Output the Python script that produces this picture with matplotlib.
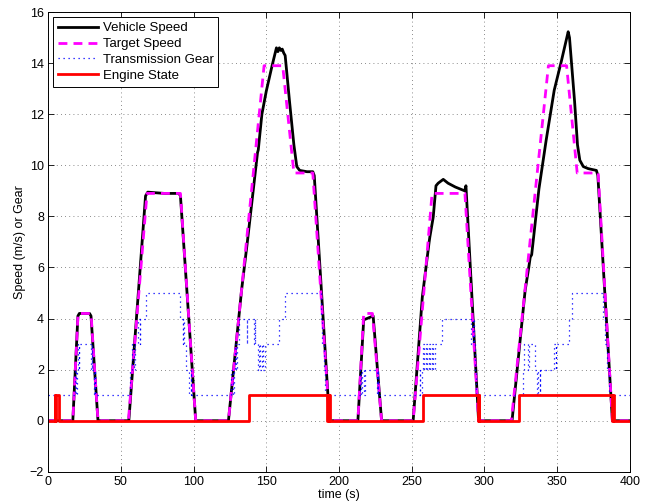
import numpy as np
import matplotlib
matplotlib.use('Agg')
import matplotlib.pyplot as plt

plt.rcParams['font.family'] = ['Liberation Sans', 'DejaVu Sans']
plt.rcParams['font.size'] = 9

# vehicle speed trace (s, m/s)
vehicle_t = [0, 17, 20.5, 21.5, 28.5, 29.5, 34.3,
             55.5, 67, 68.5, 80, 90, 91, 101.5,
             124, 133, 137, 141, 144, 144.5, 147, 150, 154, 157, 158, 159, 160, 161, 162, 163,
             166, 169, 171, 173, 178, 182, 183, 193.5,
             213, 217, 223.5, 229.3,
             251, 257.3, 262, 262.5, 264.8, 266.7, 268.2, 271.7, 275, 280, 286.5, 287.3, 296,
             319, 328, 330.5, 331.5, 332.5, 337.5, 342.5, 348, 353, 357.6, 358.5, 362, 364, 365.6,
             368, 371.4, 377, 378, 388, 400]
vehicle_v = [0, 0, 4.1, 4.2, 4.2, 4.1, 0,
             0, 8.8, 8.95, 8.9, 8.9, 8.8, 0,
             0, 5.1, 7.0, 9.0, 10.5, 10.6, 12.0, 12.9, 13.9, 14.6, 14.45, 14.6, 14.5, 14.55, 14.4, 14.3,
             12.5, 10.8, 9.95, 9.8, 9.75, 9.75, 9.6, 0,
             0, 3.95, 4.1, 0,
             0, 4.84, 7.0, 7.2, 7.97, 9.2, 9.3, 9.45, 9.3, 9.15, 9.0, 9.2, 0,
             0, 5.1, 6.0, 6.4, 6.5, 9.08, 11.0, 12.94, 14.1, 15.23, 15.0, 12.5, 10.8, 10.2,
             9.95, 9.87, 9.8, 9.6, 0, 0]

# target speed profile
target_t = [0, 17, 20.6, 29.5, 34.3, 55.2, 68, 91, 101.5, 124, 148.5, 161.3, 169, 182, 193.5,
            213, 217, 223, 229.3, 251, 264, 286.6, 296, 318.5, 344, 356.5, 363.8, 378.2, 388, 400]
target_v = [0, 0, 4.2, 4.2, 0, 0, 8.9, 8.9, 0, 0, 13.9, 13.9, 9.7, 9.7, 0,
            0, 4.2, 4.2, 0, 0, 8.9, 8.9, 0, 0, 13.9, 13.9, 9.7, 9.7, 0, 0]

# transmission gear (step changes)
gear_t = [0, 18.5, 19.5, 20, 20.5, 21, 21.5, 29.5, 30, 30.5, 31.5, 32, 32.5,
          56.5, 58, 59, 59.5, 62, 63, 63.5, 67.5, 90.5, 92.5, 93, 93.5, 95, 97, 98, 98.5,
          126, 127, 127.5, 128.5, 129, 130, 131, 136.5, 137, 141.5, 142, 142.5, 144, 145, 146, 147,
          148, 149, 158.5, 163, 187.5, 188.5, 189.5, 190.5,
          214.5, 215, 216, 217, 218, 226, 226.5, 227,
          255.5, 256, 257, 258, 258.5, 260, 260.5, 262, 262.5, 264, 264.5, 266, 270.5, 291, 292,
          292.5, 293.5, 294.5,
          326.5, 327, 330, 330.5, 335, 336, 337, 338, 338.5, 348, 349, 349.5, 358.5, 360,
          381.5, 383, 384, 385.5, 400]
gear = [1, 2, 1, 2, 3, 2, 3, 2, 3, 2, 1, 2, 1,
        2, 3, 2, 3, 4, 3, 4, 5, 4, 3, 4, 3, 2, 1, 2, 1,
        2, 1, 2, 3, 2, 3, 4, 3, 4, 3, 4, 3, 2, 3, 2, 3,
        2, 3, 4, 5, 4, 3, 2, 1,
        2, 1, 2, 1, 2, 1, 2, 1,
        2, 1, 2, 3, 2, 3, 2, 3, 2, 3, 2, 3, 4, 3, 4,
        3, 2, 1,
        2, 3, 2, 3, 2, 1, 2, 1, 2, 3, 2, 3, 4, 5,
        4, 3, 2, 1, 1]

# engine on/off
engine_t = [0, 4.5, 5.0, 5.3, 7.8, 138.3, 191.8, 192.3, 192.8, 193.3, 193.8, 194.3,
            258, 295.5, 296, 296.5, 297, 323.7, 388, 388.5, 389, 389.5, 400]
engine = [0, 1, 0, 1, 0, 1, 0, 1, 0, 1, 0, 0,
          1, 0, 1, 0, 0, 1, 0, 1, 0, 0, 0]

fig = plt.figure(figsize=(6.5, 5.03), dpi=100)
ax = fig.add_axes([0.074, 0.062, 0.895, 0.914])

ax.plot(vehicle_t, vehicle_v, color='k', lw=2, label='Vehicle Speed')
ax.plot(target_t, target_v, color='#ff00ff', lw=2, ls=(0, (3.2, 2.2)), label='Target Speed')
ax.plot(gear_t, gear, color='b', lw=0.9, ls=(0, (1, 3)), drawstyle='steps-post',
        label='Transmission Gear')
ax.plot(engine_t, engine, color='r', lw=2, drawstyle='steps-post', label='Engine State')

ax.set_xlim(0, 400)
ax.set_ylim(-2, 16)
ax.set_xticks(np.arange(0, 401, 50))
ax.set_yticks(np.arange(-2, 17, 2))
ax.set_yticklabels([f'{v}'.replace('-', '\u2212') for v in range(-2, 17, 2)])
ax.tick_params(direction='in', top=True, right=True, length=4, width=0.6, labelsize=9, pad=3)
ax.grid(True, color='#666666', ls=(0, (1, 4)), lw=0.6)
for s in ax.spines.values():
    s.set_linewidth(0.7)

ax.set_xlabel('time (s)', labelpad=1)
ax.set_ylabel('Speed (m/s) or Gear', labelpad=3)

leg = ax.legend(loc='upper left', fancybox=False, edgecolor='k', framealpha=1,
                borderpad=0.35, labelspacing=0.28, handlelength=3.0, handletextpad=0.4,
                borderaxespad=0.4, fontsize=9.5)
leg.get_frame().set_linewidth(0.7)

fig.savefig('out.png', dpi=100)
